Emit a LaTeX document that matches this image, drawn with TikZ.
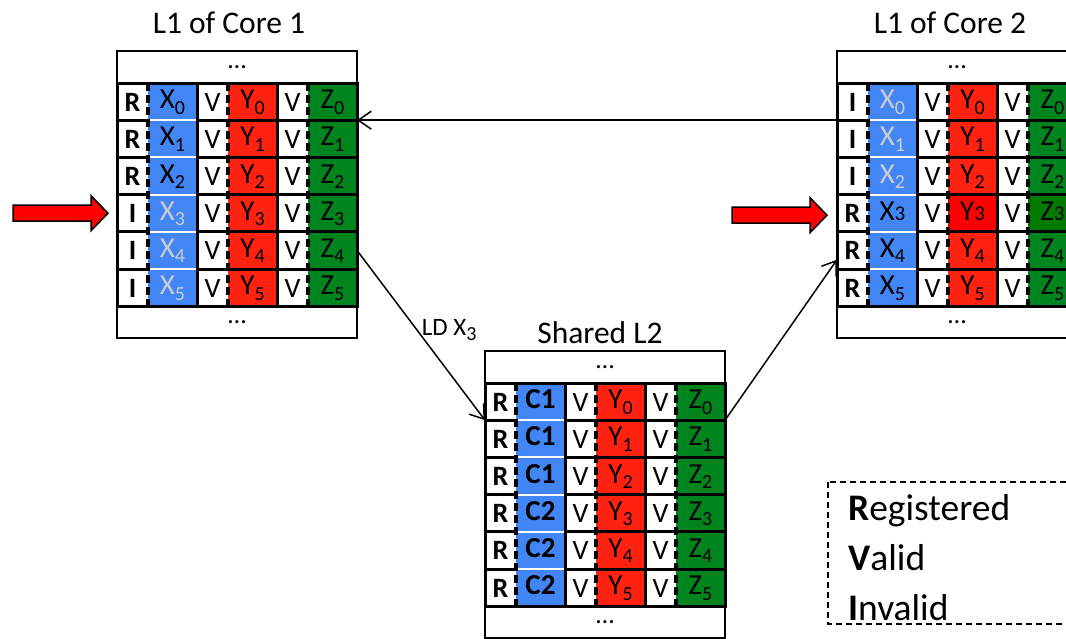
\documentclass[tikz,border=0pt]{standalone}
\usepackage{fontspec}
\setmainfont{Carlito}
\usetikzlibrary{calc,arrows.meta}

\definecolor{cblue}{RGB}{66,133,244}
\definecolor{cred}{RGB}{255,34,17}
\definecolor{cgreen}{RGB}{0,133,30}
\definecolor{cbrightred}{RGB}{255,0,0}
\definecolor{cdarkgreen}{RGB}{0,122,0}
\definecolor{cfaded}{RGB}{205,205,205}

% lowered index and index sitting on the baseline
\newcommand{\lsub}[1]{\raisebox{-5.5pt}{\fontsize{20}{20}\selectfont #1}}
\newcommand{\bsub}[1]{{\fontsize{21}{21}\selectfont #1}}

\tikzset{
  x=1pt, y=-1pt,
  flagcell/.style={inner sep=0pt, outer sep=0pt, minimum width=31pt, minimum height=37.2pt,
    text height=19pt, text depth=0pt, font=\fontsize{28}{28}\selectfont, fill=white},
  datacell/.style={inner sep=0pt, outer sep=0pt, minimum width=49pt, minimum height=37.2pt,
    text height=20pt, text depth=6pt, font=\fontsize{29}{29}\selectfont},
  xcell/.style={fill=cblue},
  ycell/.style={fill=cred},
  zcell/.style={fill=cgreen},
  gridline/.style={line width=3pt, line cap=rect},
  griddash/.style={line width=3.2pt, dash pattern=on 8pt off 4pt},
  whiteline/.style={line width=2pt, white},
  dotsbox/.style={draw, line width=1.5pt, inner sep=0pt, outer sep=0pt,
    minimum width=240pt, minimum height=32pt, font=\fontsize{26}{26}\selectfont},
  title/.style={font=\fontsize{31.5}{31.5}\selectfont, anchor=base, inner sep=0pt},
  link/.style={line width=1.5pt, -{Straight Barb[length=13pt,width=18pt,line width=1.5pt]}},
  linklabel/.style={font=\fontsize{25}{25}\selectfont, inner sep=0pt},
  blockarr/.style={fill=red, draw=black, line width=1.5pt, line join=miter},
  legendbox/.style={draw, line width=1.5pt, dash pattern=on 6pt off 4pt},
  legendtext/.style={font=\fontsize{37.5}{37.5}\selectfont, anchor=base west, inner sep=0pt},
}

% one line of a cache: table, row, left x, centre y, flag, X text, X colour, Y text, Z text
\newcommand{\cacherow}[9]{%
  \node[flagcell] (#1-#2-R) at (#3+15.5,#4) {\bfseries #5};
  \node[datacell, xcell, text=#7] (#1-#2-X) at (#3+55.5,#4) {#6};
  \node[flagcell] (#1-#2-V1) at (#3+95.5,#4) {V};
  \node[datacell, ycell] (#1-#2-Y) at (#3+135.5,#4) {#8};
  \node[flagcell] (#1-#2-V2) at (#3+175.5,#4) {V};
  \node[datacell, zcell] (#1-#2-Z) at (#3+215.5,#4) {#9};
}

% grid of a cache table
\newcommand{\cachegrid}[1]{%
  \foreach \r in {0,...,4} {
    \draw[gridline] (#1-\r-R.south west) -- (#1-\r-R.south east);
    \draw[whiteline] (#1-\r-X.south west) -- (#1-\r-X.south east);
    \draw[gridline] (#1-\r-V1.south west) -- (#1-\r-Z.south east);
  }
  \draw[gridline] (#1-0-R.north west) -- (#1-0-Z.north east);
  \draw[gridline] (#1-5-R.south west) -- (#1-5-Z.south east);
  \draw[gridline] (#1-0-R.north west) -- (#1-5-R.south west);
  \draw[griddash] (#1-0-R.north east) -- (#1-5-R.south east);
  \draw[gridline] (#1-0-X.north east) -- (#1-5-X.south east);
  \draw[griddash] (#1-0-V1.north east) -- (#1-5-V1.south east);
  \draw[gridline] (#1-0-Y.north east) -- (#1-5-Y.south east);
  \draw[griddash] (#1-0-V2.north east) -- (#1-5-V2.south east);
  \draw[gridline] (#1-0-Z.north east) -- (#1-5-Z.south east);
  \node[dotsbox, anchor=south west] (#1-top) at (#1-0-R.north west) {…};
  \node[dotsbox, anchor=north west] (#1-bottom) at (#1-5-R.south west) {…};
}

% red block arrow pointing right, tip at the given point
\newcommand{\blockarrow}[1]{%
  \draw[blockarr] (#1) -- ++(-17,-17.5) -- ++(0,9.5) -- ++(-78,0) -- ++(0,16)
    -- ++(78,0) -- ++(0,9.5) -- cycle;
}

\begin{document}
\begin{tikzpicture}
\useasboundingbox (0,0) rectangle (1066,638);
\fill[white] (0,0) rectangle (1066,638);

% L1 of core 1
\cacherow{c1}{0}{117}{101.6}{R}{X\lsub{0}}{black}{Y\lsub{0}}{Z\lsub{0}}
\cacherow{c1}{1}{117}{138.8}{R}{X\lsub{1}}{black}{Y\lsub{1}}{Z\lsub{1}}
\cacherow{c1}{2}{117}{176.0}{R}{X\lsub{2}}{black}{Y\lsub{2}}{Z\lsub{2}}
\cacherow{c1}{3}{117}{213.2}{I}{X\lsub{3}}{cfaded}{Y\lsub{3}}{Z\lsub{3}}
\cacherow{c1}{4}{117}{250.4}{I}{X\lsub{4}}{cfaded}{Y\lsub{4}}{Z\lsub{4}}
\cacherow{c1}{5}{117}{287.6}{I}{X\lsub{5}}{cfaded}{Y\lsub{5}}{Z\lsub{5}}
\cachegrid{c1}
\node[title] (t1) at (229,33) {L1 of Core 1};

% L1 of core 2
\cacherow{c2}{0}{837}{101.6}{I}{X\lsub{0}}{cfaded}{Y\lsub{0}}{Z\lsub{0}}
\cacherow{c2}{1}{837}{138.8}{I}{X\lsub{1}}{cfaded}{Y\lsub{1}}{Z\lsub{1}}
\cacherow{c2}{2}{837}{176.0}{I}{X\lsub{2}}{cfaded}{Y\lsub{2}}{Z\lsub{2}}
\begin{scope}[ycell/.style={fill=cbrightred, draw=black!40!red, thin},
              zcell/.style={fill=cdarkgreen, draw=black!60!green, thin}]
\cacherow{c2}{3}{837}{213.2}{R}{X\bsub{3}}{black}{Y\bsub{3}}{Z\bsub{3}}
\end{scope}
\cacherow{c2}{4}{837}{250.4}{R}{X\lsub{4}}{black}{Y\lsub{4}}{Z\lsub{4}}
\cacherow{c2}{5}{837}{287.6}{R}{X\lsub{5}}{black}{Y\lsub{5}}{Z\lsub{5}}
\cachegrid{c2}
\node[title] (t2) at (950,33) {L1 of Core 2};

% shared L2
\cacherow{l2}{0}{485}{401.6}{R}{\bfseries C1}{black}{Y\lsub{0}}{Z\lsub{0}}
\cacherow{l2}{1}{485}{438.8}{R}{\bfseries C1}{black}{Y\lsub{1}}{Z\lsub{1}}
\cacherow{l2}{2}{485}{476.0}{R}{\bfseries C1}{black}{Y\lsub{2}}{Z\lsub{2}}
\cacherow{l2}{3}{485}{513.2}{R}{\bfseries C2}{black}{Y\lsub{3}}{Z\lsub{3}}
\cacherow{l2}{4}{485}{550.4}{R}{\bfseries C2}{black}{Y\lsub{4}}{Z\lsub{4}}
\cacherow{l2}{5}{485}{587.6}{R}{\bfseries C2}{black}{Y\lsub{5}}{Z\lsub{5}}
\cachegrid{l2}
\node[title] (t3) at (600,343) {Shared L2};

% traffic between the caches
\draw[link] (c1-4-Z.east) -- (l2-0-R.south west)
  node[linklabel, pos=0.47, anchor=west, xshift=4pt] (ld) {LD X\lsub{3}};
\draw[link] (l2-0-Z.south east) -- ($(c2-4-R.west)!0.5!(c2-4-R.south west)$);
\draw[link] (c2-1-R.north west) -- (c1-1-Z.north east);

% accesses
\coordinate (acc1) at ($(c1-3-R.west)+(-9,0)$);
\coordinate (acc2) at ($(c2-3-R.west)+(-10,2)$);
\blockarrow{acc1}
\blockarrow{acc2}

% legend
\draw[legendbox] (828,482) rectangle (1080,624);
\node[legendtext] (lr) at (848,520) {\textbf{R}egistered};
\node[legendtext] (lv) at (848,570) {\textbf{V}alid};
\node[legendtext] (li) at (848,620) {\textbf{I}nvalid};
\end{tikzpicture}
\end{document}
